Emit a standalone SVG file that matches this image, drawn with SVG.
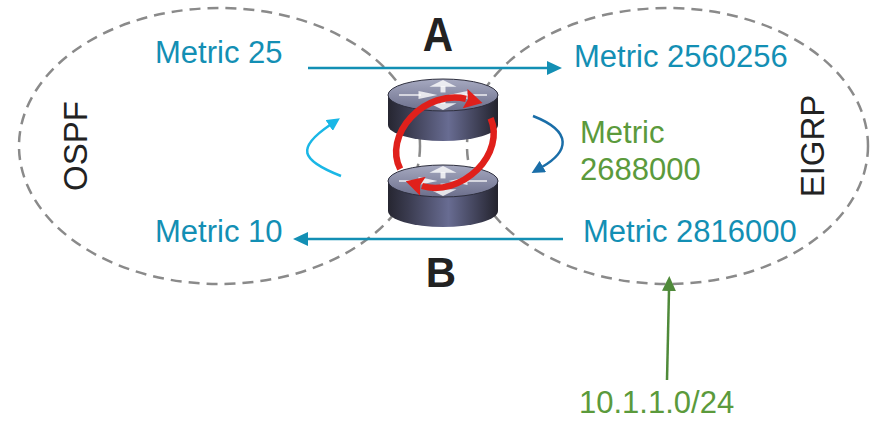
<svg xmlns="http://www.w3.org/2000/svg" width="877" height="422" viewBox="0 0 877 422">
  <style>
    .domain { fill: none; stroke: #8a8a8a; stroke-width: 2.5; stroke-dasharray: 11 7; }
    .lbl { font-family: "Liberation Sans", Arial, sans-serif; font-size: 31px; }
    .teal { fill: #138fb4; }
    .green { fill: #5b9a3c; }
    .dom { font-family: "Liberation Sans", Arial, sans-serif; font-size: 33px; fill: #222; text-anchor: middle; }
    .rname { font-family: "Liberation Sans", Arial, sans-serif; font-size: 42px; font-weight: bold; fill: #222; text-anchor: middle; }
    .flow { fill: none; stroke: #138fb4; stroke-width: 2.5; }
    .loop { fill: none; stroke: #e0201b; stroke-width: 6.5; marker-end: url(#redHead); }
    .icon { fill: #ffffff; stroke: #ffffff; stroke-width: 5; opacity: 0.8; }
  </style>
  <defs>
    <marker id="tealHead" markerUnits="userSpaceOnUse" markerWidth="15" markerHeight="14" viewBox="0 0 15 14" refX="1" refY="7" orient="auto">
      <path d="M0,0 L15,7 L0,14 z" fill="#138fb4"/>
    </marker>
    <marker id="cyanHead" markerUnits="userSpaceOnUse" markerWidth="13" markerHeight="13" viewBox="0 0 13 13" refX="1" refY="6.5" orient="auto">
      <path d="M0,0 L13,6.5 L0,13 z" fill="#1ab7e6"/>
    </marker>
    <marker id="blueHead" markerUnits="userSpaceOnUse" markerWidth="13" markerHeight="13" viewBox="0 0 13 13" refX="1" refY="6.5" orient="auto">
      <path d="M0,0 L13,6.5 L0,13 z" fill="#1a6ea8"/>
    </marker>
    <marker id="greenHead" markerUnits="userSpaceOnUse" markerWidth="15" markerHeight="14" viewBox="0 0 15 14" refX="1" refY="7" orient="auto">
      <path d="M0,0 L15,7 L0,14 z" fill="#4f8a3a"/>
    </marker>
    <marker id="redHead" markerUnits="userSpaceOnUse" markerWidth="18" markerHeight="20" viewBox="0 0 18 20" refX="1" refY="10" orient="auto">
      <path d="M0,0 L18,10 L0,20 L3,10 z" fill="#e0201b"/>
    </marker>
    <linearGradient id="routerTop" x1="0" y1="0" x2="0" y2="1">
      <stop offset="0" stop-color="#a6a9c0"/>
      <stop offset="1" stop-color="#6c6f8c"/>
    </linearGradient>
    <linearGradient id="routerSide" x1="0" y1="0" x2="1" y2="0">
      <stop offset="0" stop-color="#262631"/>
      <stop offset="0.18" stop-color="#3a3b4f"/>
      <stop offset="0.55" stop-color="#686c92"/>
      <stop offset="0.85" stop-color="#3a3b4f"/>
      <stop offset="1" stop-color="#23232d"/>
    </linearGradient>
    <g id="router">
      <path d="M-55,0 L-55,30 A55,16 0 0 0 55,30 L55,0 Z" fill="url(#routerSide)"/>
      <ellipse cx="0" cy="0" rx="55" ry="16" fill="url(#routerTop)" stroke="#2e2f3e" stroke-width="1"/>
      <g transform="scale(1,0.32)">
        <line class="icon" x1="0" y1="-8" x2="0" y2="-28"/>
        <polygon class="icon" points="-9,-28 0,-42 9,-28"/>
        <line class="icon" x1="0" y1="8" x2="0" y2="28"/>
        <polygon class="icon" points="-9,28 0,42 9,28"/>
        <line class="icon" x1="-44" y1="0" x2="-22" y2="0"/>
        <polygon class="icon" points="-22,-8 -10,0 -22,8"/>
        <line class="icon" x1="44" y1="0" x2="22" y2="0"/>
        <polygon class="icon" points="22,-8 10,0 22,8"/>
      </g>
    </g>
  </defs>

  <rect width="877" height="422" fill="#ffffff"/>

  <!-- routing domains -->
  <g id="ospf-domain">
    <ellipse class="domain" cx="219.5" cy="146" rx="200.5" ry="138"/>
    <text class="dom" transform="translate(87,146) rotate(-90)">OSPF</text>
  </g>
  <g id="eigrp-domain">
    <ellipse class="domain" cx="667.5" cy="146" rx="200.5" ry="138"/>
    <text class="dom" transform="translate(824,146) rotate(-90)">EIGRP</text>
  </g>

  <!-- redistribution flows -->
  <g id="connectors">
    <line class="flow" x1="308" y1="68" x2="548" y2="68" marker-end="url(#tealHead)"/>
    <line class="flow" x1="563" y1="239" x2="307" y2="239" marker-end="url(#tealHead)"/>
    <path d="M341,176 C300,160 296,148 330,125" fill="none" stroke="#1ab7e6" stroke-width="2.5" marker-end="url(#cyanHead)"/>
    <path d="M533,116 C574,132 568,152 542,167" fill="none" stroke="#1a6ea8" stroke-width="2.5" marker-end="url(#blueHead)"/>
    <line x1="667" y1="380" x2="669" y2="290" stroke="#4f8a3a" stroke-width="2.5" marker-end="url(#greenHead)"/>
  </g>

  <!-- redistribution routers -->
  <g id="router-a">
    <use href="#router" transform="translate(443,95)"/>
    <text class="rname" transform="translate(438,51) scale(1,1.15)">A</text>
  </g>
  <g id="router-b">
    <use href="#router" transform="translate(443,181)"/>
    <text class="rname" x="441" y="287">B</text>
  </g>

  <!-- routing loop -->
  <g id="loop">
    <path class="loop" d="M400.2,169.1 A52,42 -35 0 1 466,98.8"/>
    <path class="loop" d="M490.6,118.2 A52,42 -35 0 1 422,186"/>
  </g>

  <!-- metric labels -->
  <g id="labels">
    <text class="lbl teal" x="155" y="63">Metric 25</text>
    <text class="lbl teal" x="574" y="67">Metric 2560256</text>
    <text class="lbl green" x="580" y="143">Metric</text>
    <text class="lbl green" x="580" y="180">2688000</text>
    <text class="lbl teal" x="155" y="242">Metric 10</text>
    <text class="lbl teal" x="583" y="242">Metric 2816000</text>
    <text class="lbl green" x="579" y="413">10.1.1.0/24</text>
  </g>
</svg>
